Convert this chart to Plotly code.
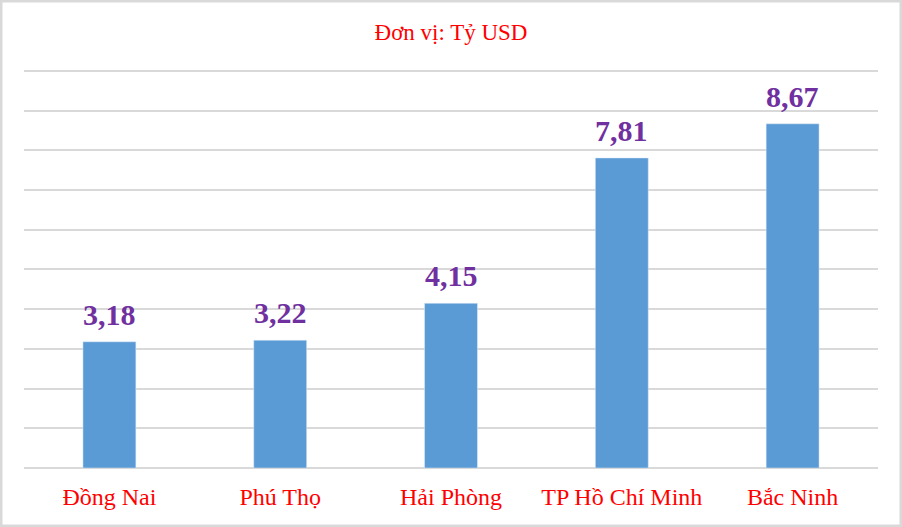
import plotly.graph_objects as go

provinces = ["Đồng Nai", "Phú Thọ", "Hải Phòng", "TP Hồ Chí Minh", "Bắc Ninh"]
values = [3.18, 3.22, 4.15, 7.81, 8.67]
value_labels = ["3,18", "3,22", "4,15", "7,81", "8,67"]

serif = "Liberation Serif, Times New Roman, serif"

fig = go.Figure(go.Bar(x=provinces, y=values, marker_color="#5B9BD5"))

# value labels above bars
for p, v, t in zip(provinces, values, value_labels):
    fig.add_annotation(x=p, y=v, text="<b>" + t + "</b>", showarrow=False,
                       yanchor="bottom", yshift=9,
                       font=dict(family=serif, size=30, color="#7030A0"))

fig.update_layout(
    width=902, height=527,
    font=dict(family=serif),
    margin=dict(l=24, r=24, t=69, b=59),
    paper_bgcolor="white", plot_bgcolor="white",
    bargap=0.69,
    showlegend=False,
    title=dict(text="Đơn vị: Tỷ USD", x=0.5, xanchor="center", y=1 - 32/527, yanchor="middle",
               font=dict(family=serif, size=23, color="#FF0000")),
    xaxis=dict(tickfont=dict(family=serif, size=24, color="#FF0000"),
               showline=False, ticks="", ticklabelstandoff=12),
    yaxis=dict(range=[0, 10.05], dtick=1, showticklabels=False, showgrid=True,
               gridcolor="#D9D9D9", gridwidth=2, zeroline=True, zerolinecolor="#D9D9D9",
               zerolinewidth=2),
    shapes=[dict(type="rect", xref="paper", yref="paper", x0=-23/854, x1=1+23/854,
                 y0=-58/399, y1=1+68/399, line=dict(color="#D9D9D9", width=3))],
)

fig.write_html("out.html", config={"displayModeBar": False},
               post_script="document.body.style.margin='0';")
